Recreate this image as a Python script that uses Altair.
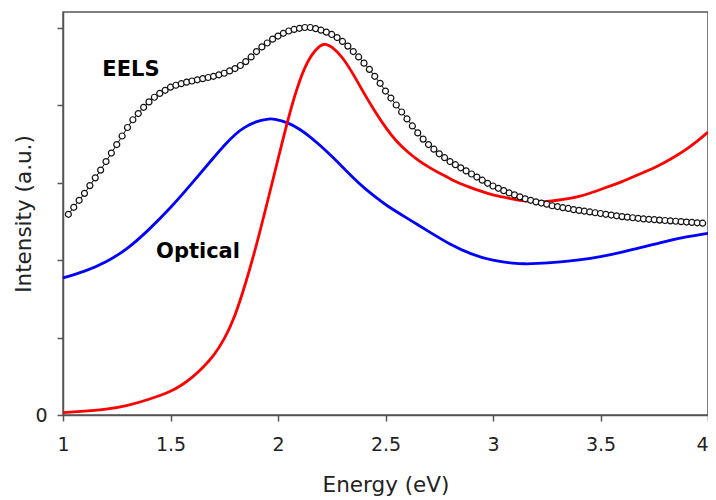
import altair as alt
import pandas as pd

# EELS measured spectrum (open circles)
eels_energy = [
    1.025, 1.050, 1.075, 1.100, 1.125, 1.150, 1.175, 1.200, 1.225, 1.250,
    1.275, 1.300, 1.325, 1.350, 1.375, 1.400, 1.425, 1.450, 1.475, 1.500,
    1.525, 1.550, 1.575, 1.600, 1.625, 1.650, 1.675, 1.700, 1.725, 1.750,
    1.775, 1.800, 1.825, 1.850, 1.875, 1.900, 1.925, 1.950, 1.975, 2.000,
    2.025, 2.050, 2.075, 2.100, 2.125, 2.150, 2.175, 2.200, 2.225, 2.250,
    2.275, 2.300, 2.325, 2.350, 2.375, 2.400, 2.425, 2.450, 2.475, 2.500,
    2.525, 2.550, 2.575, 2.600, 2.625, 2.650, 2.675, 2.700, 2.725, 2.750,
    2.775, 2.800, 2.825, 2.850, 2.875, 2.900, 2.925, 2.950, 2.975, 3.000,
    3.025, 3.050, 3.075, 3.100, 3.125, 3.150, 3.175, 3.200, 3.225, 3.250,
    3.275, 3.300, 3.325, 3.350, 3.375, 3.400, 3.425, 3.450, 3.475, 3.500,
    3.525, 3.550, 3.575, 3.600, 3.625, 3.650, 3.675, 3.700, 3.725, 3.750,
    3.775, 3.800, 3.825, 3.850, 3.875, 3.900, 3.925, 3.950, 3.975,
]
eels_intensity = [
    2.59, 2.68, 2.77, 2.86, 2.96, 3.06, 3.16, 3.27, 3.38, 3.49,
    3.60, 3.71, 3.81, 3.89, 3.97, 4.04, 4.10, 4.15, 4.19, 4.23,
    4.255, 4.275, 4.295, 4.31, 4.325, 4.34, 4.355, 4.37, 4.39, 4.41,
    4.44, 4.47, 4.51, 4.56, 4.62, 4.69, 4.75, 4.80, 4.85, 4.89,
    4.925, 4.955, 4.975, 4.99, 5.00, 5.00, 4.985, 4.965, 4.94, 4.91,
    4.87, 4.82, 4.76, 4.69, 4.62, 4.54, 4.46, 4.37, 4.28, 4.18,
    4.09, 4.00, 3.91, 3.82, 3.73, 3.64, 3.56, 3.49, 3.43, 3.37,
    3.32, 3.27, 3.23, 3.19, 3.15, 3.11, 3.07, 3.03, 2.99, 2.955,
    2.925, 2.895, 2.865, 2.84, 2.815, 2.79, 2.77, 2.75, 2.735, 2.72,
    2.70, 2.69, 2.675, 2.665, 2.65, 2.64, 2.63, 2.62, 2.61, 2.60,
    2.59, 2.58, 2.57, 2.56, 2.553, 2.545, 2.538, 2.53, 2.525, 2.52,
    2.515, 2.51, 2.505, 2.50, 2.495, 2.49, 2.485, 2.48, 2.475,
]

# Red curve
red_energy = [1.0, 1.1, 1.2, 1.3, 1.4, 1.5, 1.55, 1.6, 1.65, 1.7, 1.75, 1.8,
              1.85, 1.9, 1.95, 2.0, 2.05, 2.1, 2.15, 2.2, 2.22, 2.25, 2.3,
              2.35, 2.4, 2.45, 2.5, 2.55, 2.6, 2.65, 2.7, 2.75, 2.8, 2.85,
              2.9, 2.95, 3.0, 3.05, 3.1, 3.15, 3.2, 3.25, 3.3, 3.35, 3.4,
              3.45, 3.5, 3.55, 3.6, 3.65, 3.7, 3.75, 3.8, 3.85, 3.9, 3.95, 4.0]
red_intensity = [0.03, 0.05, 0.07, 0.12, 0.20, 0.30, 0.38, 0.48, 0.61, 0.76, 0.97, 1.27,
                 1.70, 2.19, 2.74, 3.30, 3.86, 4.33, 4.64, 4.78, 4.79, 4.76, 4.62,
                 4.40, 4.15, 3.92, 3.71, 3.53, 3.40, 3.29, 3.20, 3.12, 3.05, 2.98,
                 2.93, 2.88, 2.84, 2.81, 2.78, 2.76, 2.75, 2.755, 2.77, 2.79, 2.82,
                 2.86, 2.91, 2.96, 3.01, 3.07, 3.13, 3.19, 3.26, 3.34, 3.43, 3.53, 3.65]

# Blue (Optical) curve
blue_energy = [1.0, 1.1, 1.2, 1.3, 1.4, 1.5, 1.6, 1.7, 1.76, 1.8, 1.84, 1.9,
               1.95, 1.98, 2.05, 2.1, 2.15, 2.2, 2.25, 2.3, 2.35, 2.4, 2.45,
               2.5, 2.6, 2.7, 2.8, 2.9, 3.0, 3.1, 3.15, 3.2, 3.3, 3.4, 3.5,
               3.6, 3.7, 3.8, 3.9, 4.0]
blue_intensity = [1.77, 1.85, 1.97, 2.14, 2.39, 2.67, 2.99, 3.32, 3.51, 3.62, 3.71, 3.79,
                  3.82, 3.825, 3.77, 3.69, 3.59, 3.47, 3.34, 3.20, 3.06, 2.93, 2.82,
                  2.71, 2.54, 2.37, 2.20, 2.07, 1.99, 1.955, 1.95, 1.953, 1.97, 2.00, 2.04,
                  2.10, 2.17, 2.24, 2.30, 2.345]

label_text = ["EELS", "Optical"]
label_energy = [1.316, 1.628]
label_intensity = [4.38, 2.02]

x_ticks = [1, 1.5, 2, 2.5, 3, 3.5, 4]
y_ticks = [0, 1, 2, 3, 4, 5]

eels_df = pd.DataFrame({"energy": eels_energy, "intensity": eels_intensity})
red_df = pd.DataFrame({"energy": red_energy, "intensity": red_intensity})
blue_df = pd.DataFrame({"energy": blue_energy, "intensity": blue_intensity})
label_df = pd.DataFrame({"energy": label_energy, "intensity": label_intensity, "text": label_text})

FONT = "DejaVu Sans"
AX = "#555555"
W, H = 645, 403

x_enc = alt.X("energy:Q", scale=alt.Scale(domain=[1, 4], nice=False, zero=False),
              axis=alt.Axis(title="Energy (eV)", values=x_ticks, format="~g", grid=False,
                            tickSize=6, labelPadding=14,
                            labelAlign={"expr": "datum.value == 4 ? 'right' : 'center'"},
                            titleX=W / 2, titleY=76, titleAlign="center",
                            titleBaseline="alphabetic",
                            labelFontSize=19, titleFontSize=21.5, labelFlush=False))
y_enc = alt.Y("intensity:Q", scale=alt.Scale(domain=[0, 5.2], nice=False),
              axis=alt.Axis(title="Intensity (a.u.)", values=y_ticks, grid=False,
                            tickSize=6, labelPadding=10,
                            titleX=-28, titleY=H / 2, titleAngle=270,
                            titleAlign="center", titleBaseline="bottom",
                            labelExpr="datum.value == 0 ? '0' : ''",
                            labelFontSize=19, titleFontSize=21.5))

red = alt.Chart(red_df).mark_line(color="#ff0000", strokeWidth=2.8, interpolate="basis").encode(
    x=x_enc, y=y_enc)
blue = alt.Chart(blue_df).mark_line(color="#0000ff", strokeWidth=2.8, interpolate="basis").encode(
    x="energy:Q", y="intensity:Q")
eels_line = alt.Chart(eels_df).mark_line(color="#000000", strokeWidth=1).encode(
    x="energy:Q", y="intensity:Q")
eels = alt.Chart(eels_df).mark_point(shape="circle", size=36, filled=True, fill="white",
                                     stroke="#111111", strokeWidth=1.2, opacity=1).encode(
    x="energy:Q", y="intensity:Q")
labels = alt.Chart(label_df).mark_text(font=FONT, fontSize=21, fontWeight="bold", color="black",
                                       align="center", baseline="alphabetic").encode(
    x="energy:Q", y="intensity:Q", text="text:N")

chart = alt.layer(blue, red, eels_line, eels, labels).properties(
    width=W, height=H,
    autosize=alt.AutoSizeParams(type="none"),
    padding={"left": 55, "top": 4, "right": 0, "bottom": 85},
).configure_view(stroke=AX, strokeWidth=1.5).configure_axis(
    domainColor=AX, tickColor=AX, domainWidth=1.5, tickWidth=1.5,
    labelFont=FONT, titleFont=FONT, labelColor="#222222", titleColor="#222222",
    titleFontWeight="normal",
)

chart.save("out.html", embed_options={"renderer": "svg", "actions": False})
